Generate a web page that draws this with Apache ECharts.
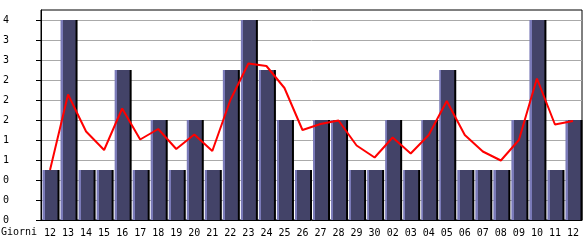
<!DOCTYPE html>
<html><head><meta charset="utf-8">
<script src="https://cdn.jsdelivr.net/npm/echarts@6/dist/echarts.min.js"></script>
<style>html,body{margin:0;padding:0;background:#fff}#c{width:585px;height:240px}</style>
</head><body><div id="c"></div>
<script>
const categories = ['12','13','14','15','16','17','18','19','20','21','22','23','24','25','26','27','28','29','30','02','03','04','05','06','07','08','09','10','11','12'];
const barValues = [1,4,1,1,3,1,2,1,2,1,3,4,3,2,1,2,2,1,1,2,1,2,3,1,1,1,2,4,1,2];
const lineValues = [1.0,2.51,1.77,1.40,2.23,1.61,1.82,1.42,1.71,1.38,2.4,3.13,3.08,2.64,1.8,1.92,1.99,1.49,1.25,1.65,1.33,1.7,2.38,1.7,1.37,1.19,1.6,2.83,1.91,1.98];
const yTicks = [0,0.4,0.8,1.2,1.6,2.0,2.4,2.8,3.2,3.6,4.0];
const xAxisName = 'Giorni';

const font = 'DejaVu Sans Mono';
const chart = echarts.init(document.getElementById('c'), null, {renderer:'canvas'});
chart.setOption({
  animation: false,
  backgroundColor: '#fff',
  grid: {left: 41, right: 3, top: 10, bottom: 20, show: true, borderColor: '#000', borderWidth: 1, backgroundColor: 'transparent'},
  graphic: [{type: 'text', left: 1, top: 227, style: {text: xAxisName, font: '10px ' + font, fill: '#000'}}],
  xAxis: {
    type: 'category', data: categories, boundaryGap: true,
    axisLine: {lineStyle: {color: '#000', width: 1}},
    axisTick: {alignWithLabel: true, length: 5, lineStyle: {color: '#000'}},
    axisLabel: {margin: 8, color: '#000', fontFamily: font, fontSize: 10, interval: 0}
  },
  yAxis: {
    type: 'value', min: 0, max: 4.2, interval: 0.4,
    axisLine: {show: true, lineStyle: {color: '#000', width: 1}},
    axisTick: {show: true, length: 5, customValues: yTicks, lineStyle: {color: '#000'}},
    splitLine: {lineStyle: {color: '#aaaaaa', width: 1}},
    axisLabel: {customValues: yTicks, align: 'left', margin: 38, color: '#000', fontFamily: font, fontSize: 10,
      formatter: v => String(Math.floor(v + 1e-9))}
  },
  series: [
    {type: 'bar', data: barValues, barWidth: 15,
      itemStyle: {
        color: {type: 'linear', x: 0, y: 0, x2: 1, y2: 0, colorStops: [
          {offset: 0, color: '#7a7ab8'}, {offset: 0.15, color: '#7a7ab8'},
          {offset: 0.15, color: '#434368'}, {offset: 1, color: '#434368'}]},
        shadowColor: '#000', shadowOffsetX: 2, shadowOffsetY: 0, shadowBlur: 0
      }},
    {type: 'line', data: lineValues, symbol: 'none', smooth: false,
      lineStyle: {color: '#ff0000', width: 2}, z: 5}
  ]
});
</script></body></html>
